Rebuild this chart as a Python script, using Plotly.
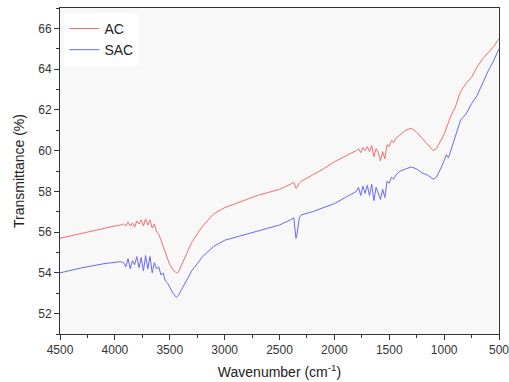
import plotly.graph_objects as go

wavenumber = [4500, 4300, 4100, 4000, 3950, 3920, 3900, 3880, 3860, 3840, 3820, 3800, 3780, 3760, 3740, 3720,
              3700, 3680, 3660, 3640, 3620, 3600, 3580, 3560, 3540, 3520, 3500, 3470, 3440, 3420, 3400, 3350,
              3300, 3200, 3100, 3000, 2900, 2800, 2700, 2600, 2500, 2400, 2370, 2350, 2340, 2320, 2300, 2200,
              2100, 2000, 1900, 1850, 1820, 1800, 1780, 1760, 1740, 1720, 1700, 1680, 1660, 1640, 1620, 1600,
              1580, 1560, 1540, 1520, 1500, 1480, 1460, 1440, 1400, 1350, 1300, 1250, 1200, 1150, 1100, 1070,
              1050, 1000, 980, 960, 940, 900, 850, 800, 750, 700, 650, 600, 550, 500]

ac = [55.7, 55.95, 56.2, 56.3, 56.35, 56.4, 56.3, 56.5, 56.3, 56.45, 56.25, 56.55, 56.4, 56.6, 56.3, 56.65,
      56.35, 56.6, 56.2, 56.4, 56.0, 55.9, 55.6, 55.3, 55.0, 54.7, 54.4, 54.15, 54.0, 54.05, 54.3, 54.9,
      55.5, 56.3, 56.9, 57.2, 57.4, 57.6, 57.8, 57.95, 58.1, 58.35, 58.45, 58.15, 58.2, 58.4, 58.5, 58.8,
      59.1, 59.45, 59.75, 59.9, 59.95, 60.0, 60.1, 59.9, 60.15, 60.0, 60.2, 59.95, 60.25, 59.7, 60.1, 59.9,
      59.5, 59.95, 59.6, 60.3, 60.2, 60.5, 60.4, 60.6, 60.8, 61.0, 61.1, 60.9, 60.6, 60.3, 60.0, 60.1,
      60.3, 60.8, 61.1, 61.4, 61.7, 62.1, 62.9, 63.3, 63.6, 64.1, 64.5, 64.8, 65.1, 65.5]

sac = [54.0, 54.25, 54.45, 54.5, 54.55, 54.5, 54.3, 54.7, 54.2, 54.6, 54.4, 54.8, 54.25, 54.75, 54.1, 54.85,
       54.2, 54.8, 54.0, 54.5, 54.2, 54.3, 53.9, 54.0, 53.6, 53.5, 53.3, 53.0, 52.8, 52.9, 53.1, 53.6,
       54.1, 54.8, 55.3, 55.6, 55.75, 55.9, 56.05, 56.2, 56.35, 56.6, 56.7, 55.7, 55.9, 56.7, 56.85, 57.0,
       57.2, 57.4, 57.7, 57.85, 57.95, 58.0, 58.2, 57.8, 58.25, 57.9, 58.3, 57.8, 58.35, 57.55, 58.2, 57.9,
       57.6, 58.1, 57.7, 58.5, 58.4, 58.7, 58.6, 58.8, 59.0, 59.1, 59.2, 59.1, 58.9, 58.8, 58.6, 58.7,
       58.9, 59.5, 59.8, 59.65, 60.0, 60.7, 61.5, 61.8, 62.3, 62.7, 63.3, 63.9, 64.4, 65.0]

x_ticks = [4500, 4000, 3500, 3000, 2500, 2000, 1500, 1000, 500]
y_ticks = [52, 54, 56, 58, 60, 62, 64, 66]

fig = go.Figure()
fig.add_trace(go.Scatter(x=wavenumber, y=ac, mode="lines", name="AC",
                         line=dict(color="rgb(240,110,110)", width=1)))
fig.add_trace(go.Scatter(x=wavenumber, y=sac, mode="lines", name="SAC",
                         line=dict(color="rgb(105,105,240)", width=1)))

axis_common = dict(showline=True, linecolor="#333", linewidth=1, mirror=True, showgrid=False,
                   zeroline=False, ticks="outside", ticklen=5, tickcolor="#333", automargin=False,
                   tickfont=dict(family="Arial", size=12, color="#333"))

fig.update_layout(
    width=509, height=382,
    margin=dict(l=60, r=10, t=8, b=48),
    paper_bgcolor="white", plot_bgcolor="#f8f8f8",
    font=dict(family="Arial", color="#222"),
    legend=dict(x=0.01, y=0.985, xanchor="left", yanchor="top", bgcolor="white",
                font=dict(size=14, family="Arial", color="#222"), tracegroupgap=0, itemwidth=30),
    showlegend=True,
)
fig.update_xaxes(range=[4500, 500], tickmode="array", tickvals=x_ticks,
                 ticktext=[str(v) for v in x_ticks], ticklabeloverflow="allow",
                 minor=dict(ticks="outside", dtick=250, ticklen=3, tickcolor="#333"),
                 title=dict(text="Wavenumber (cm<sup>-1</sup>)", font=dict(size=14, family="Arial", color="#222"),
                            standoff=10),
                 **axis_common)
fig.update_yaxes(range=[51, 67], tickvals=y_ticks,
                 minor=dict(ticks="outside", dtick=1, ticklen=3, tickcolor="#333"),
                 title=dict(text="Transmittance (%)", font=dict(size=14, family="Arial", color="#222"),
                            standoff=10),
                 **axis_common)

fig.write_html("out.html")
